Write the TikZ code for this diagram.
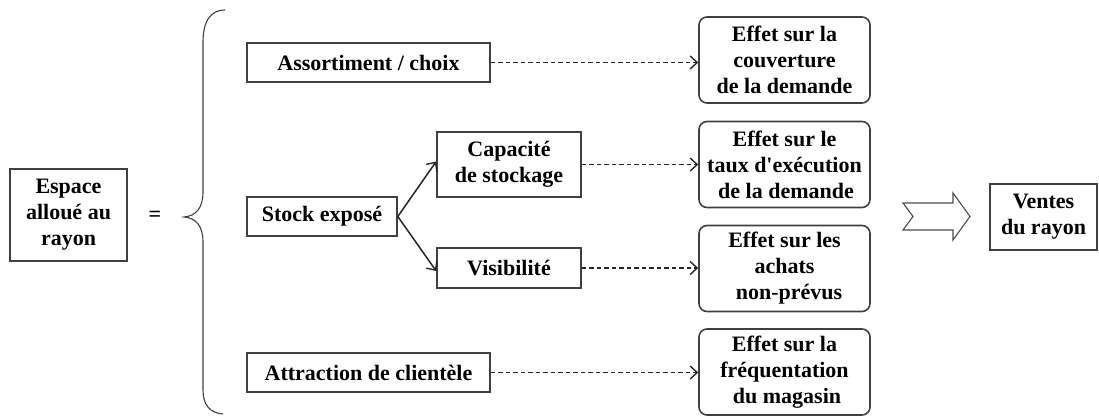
\documentclass[tikz,border=0pt]{standalone}
\usepackage{fontspec}
\newfontfamily\libser{Liberation Serif}
\usetikzlibrary{arrows.meta}
\begin{document}
\begin{tikzpicture}[x=1pt,y=-1pt,
  txt/.style={font=\libser\fontsize{22}{26}\selectfont\bfseries, text=black, align=center, inner sep=0pt},
  box/.style={txt, draw=black!75, line width=1.6pt, fill=white},
  effbox/.style={box, rounded corners=8pt, minimum width=171pt, minimum height=86pt},
  linkarrow/.style={draw=black!85, line width=1.5pt, dash pattern=on 4.5pt off 3pt, -{Straight Barb[length=7pt,width=13pt,line width=1.4pt]}},
  splitarrow/.style={draw=black!85, line width=1.5pt, -{Straight Barb[length=7pt,width=13pt,line width=1.4pt]}},
  bigarrow/.style={draw=black!70, line width=1.1pt, fill=white}
]
\useasboundingbox (0,0) rectangle (1099,417);

% left
\node[box, minimum width=117pt, minimum height=92pt] (esp) at (68.5,215) {Espace\\alloué au\\rayon};
\node[txt] (eq) at (155,216) {=};

% brace
\draw[draw=black!75, line width=1.1pt] (225,10) .. controls (210,10) and (203,22) .. (203,42) -- (203,192)
  .. controls (203,208) and (196,216) .. (184,217)
  .. controls (196,218) and (203,226) .. (203,242) -- (203,390)
  .. controls (203,405) and (210,413) .. (223,414);

% middle column
\node[box, minimum width=243pt, minimum height=39pt] (ass) at (368.5,62.5) {Assortiment / choix};
\node[box, minimum width=150pt, minimum height=39pt] (stk) at (322,216.5) {Stock exposé};
\node[box, minimum width=144pt, minimum height=65pt] (cap) at (509,164.5) {Capacité\\de stockage};
\node[box, minimum width=144pt, minimum height=40pt] (vis) at (509,268) {Visibilité};
\node[box, minimum width=243pt, minimum height=39pt] (att) at (368.5,372.5) {Attraction de clientèle};

% effects
\node[effbox] (e1) at (784.5,60) {Effet sur la\\couverture\\de la demande};
\node[effbox] (e2) at (784.5,164.5) {Effet sur le\\taux d'exécution\\\hspace*{3pt}de la demande};
\node[effbox] (e3) at (784.5,268.5) {Effet sur les\\achats\\\hspace*{9pt}non-prévus};
\node[effbox] (e4) at (784.5,372) {Effet sur la\\fréquentation\\\hspace*{5pt}du magasin};

% result
\node[box, minimum width=107pt, minimum height=66pt] (ven) at (1043.5,217) {Ventes\\du rayon};

% connectors
\draw[splitarrow] (stk.east) -- ([yshift=3pt]cap.west);
\draw[splitarrow] (stk.east) -- ([yshift=-3pt]vis.west);
\draw[linkarrow] (ass.east) -- (e1.west |- ass.east);
\draw[linkarrow] (cap.east) -- (e2.west |- cap.east);
\draw[linkarrow] (vis.east) -- (e3.west |- vis.east);
\draw[linkarrow] (att.east) -- (e4.west |- att.east);

% big arrow
\draw[bigarrow] (903,203) -- (953,203) -- (953,193) -- (970,216.5) -- (953,240) -- (953,230) -- (903,230) -- (913,216.5) -- cycle;
\end{tikzpicture}
\end{document}
